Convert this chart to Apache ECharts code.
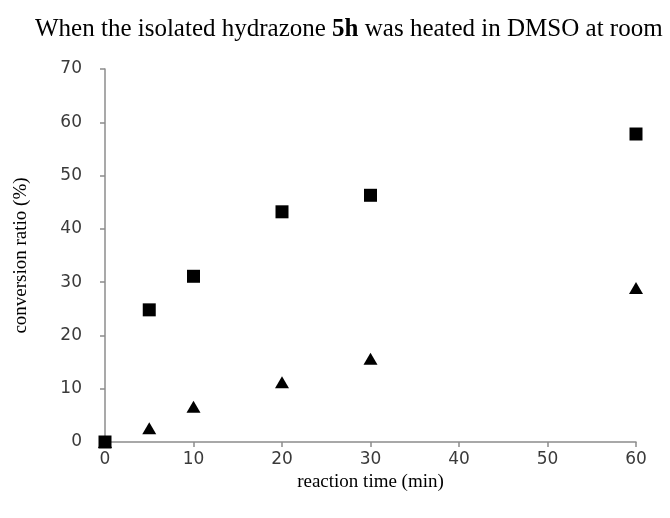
<!DOCTYPE html>
<html>
<head>
<meta charset="utf-8">
<script src="https://cdn.jsdelivr.net/npm/echarts@6/dist/echarts.min.js"></script>
<style>
  html, body { margin: 0; padding: 0; background: #fff; }
  #chart { width: 670px; height: 518px; }
</style>
</head>
<body>
<div id="chart"></div>
<script>
// reaction time (min)
const times = [0, 5, 10, 20, 30, 60];
// conversion ratio (%), square markers
const squareValues = [0, 24.8, 31.1, 43.2, 46.3, 57.8];
// conversion ratio (%), triangle markers
const triangleValues = [0, 2.6, 6.6, 11.2, 15.6, 28.9];

const toPairs = (xs, ys) => xs.map((x, i) => [x, ys[i]]);

const chart = echarts.init(document.getElementById("chart"));
const axisGray = "#8c8c8c";
const serif = "Liberation Serif";
chart.setOption({
  animation: false,
  title: {
    text: "{n|When the isolated hydrazone }{b|5h}{n| was heated in DMSO at room}",
    left: 30,
    top: 12,
    textStyle: {
      rich: {
        n: { fontFamily: serif, fontSize: 25, fontWeight: "normal", color: "#000" },
        b: { fontFamily: serif, fontSize: 25, fontWeight: "bold", color: "#000" },
      },
    },
  },
  grid: { left: 105, right: 34, top: 69, bottom: 76 },
  xAxis: {
    type: "value",
    min: 0,
    max: 60,
    interval: 10,
    name: "reaction time (min)",
    nameLocation: "middle",
    nameGap: 29,
    nameTextStyle: { fontFamily: serif, fontSize: 19, color: "#000" },
    axisLine: { lineStyle: { color: axisGray, width: 1.5 } },
    axisTick: { show: true, length: 5, lineStyle: { color: axisGray, width: 1.5 } },
    axisLabel: { margin: 9, fontFamily: "DejaVu Sans", fontSize: 17, color: "#3a3a3a" },
    splitLine: { show: false },
  },
  yAxis: {
    type: "value",
    min: 0,
    max: 70,
    interval: 10,
    name: "conversion ratio (%)",
    nameLocation: "middle",
    nameGap: 74,
    nameTextStyle: { fontFamily: serif, fontSize: 19, color: "#000" },
    axisLine: { show: true, lineStyle: { color: axisGray, width: 1.5 } },
    axisTick: { show: true, length: 5, lineStyle: { color: axisGray, width: 1.5 } },
    axisLabel: { margin: 23, fontFamily: "DejaVu Sans", fontSize: 17, color: "#3a3a3a" },
    splitLine: { show: false },
  },
  series: [
    {
      type: "scatter",
      data: toPairs(times, squareValues),
      symbol: "rect",
      symbolSize: 13,
      itemStyle: { color: "#000", opacity: 1 },
      z: 3,
    },
    {
      type: "scatter",
      data: toPairs(times, triangleValues),
      symbol: "triangle",
      symbolSize: [14, 12],
      itemStyle: { color: "#000", opacity: 1 },
      z: 2,
    },
  ],
});
</script>
</body>
</html>
